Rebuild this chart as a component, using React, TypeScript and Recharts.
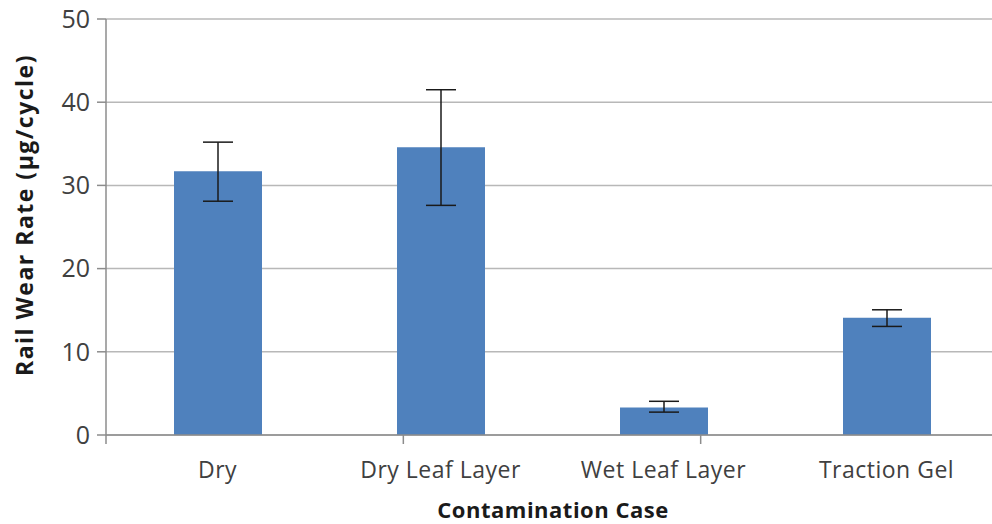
import React from 'react';
import { BarChart, Bar, XAxis, YAxis, CartesianGrid, ErrorBar } from 'recharts';

const categories = ['Dry', 'Dry Leaf Layer', 'Wet Leaf Layer', 'Traction Gel'];
const wearRates = [31.7, 34.6, 3.3, 14.1];
const errorLow = [3.6, 7.0, 0.55, 1.05];
const errorHigh = [3.5, 6.9, 0.75, 0.95];
const yTicks = [0, 10, 20, 30, 40, 50];
const boundaryTicks = [0, 1, 2, 3, 4];

const data = categories.map((c, i) => ({
  name: c,
  rate: wearRates[i],
  err: [errorLow[i], errorHigh[i]],
}));

const FONT = '"Open Sans", sans-serif';

const YTitle = (props: any) => {
  const vb = props.viewBox || {};
  const cx = 24;
  const cy = vb.y + vb.height / 2 - 12;
  return (
    <text
      x={cx}
      y={cy}
      transform={`rotate(-90, ${cx}, ${cy})`}
      textAnchor="middle"
      dominantBaseline="central"
      fontFamily={FONT}
      fontWeight={700}
      fontSize={23}
      letterSpacing={1.5}
      fill="#1a1a1a"
    >
      Rail Wear Rate (µg/cycle)
    </text>
  );
};

const XTitle = () => {
  const cx = 553;
  const cy = 509;
  return (
    <text
      x={cx}
      y={cy}
      textAnchor="middle"
      dominantBaseline="central"
      fontFamily={FONT}
      fontWeight={700}
      fontSize={22}
      letterSpacing={0.5}
      fill="#1a1a1a"
    >
      Contamination Case
    </text>
  );
};

export default function App() {
  return (
    <div style={{ position: 'absolute', left: 0, top: 0, width: 992, height: 524, overflow: 'hidden', background: '#fff' }}>
      <BarChart
        width={1000}
        height={524}
        data={data}
        margin={{ top: 19, right: 2, left: 0, bottom: 0 }}
        barCategoryGap={0}
      >
        <CartesianGrid vertical={false} stroke="#b8b8b8" strokeWidth={1.5} />
        <XAxis
          xAxisId="bounds"
          type="number"
          domain={[0, 4]}
          ticks={boundaryTicks}
          allowDataOverflow
          height={1}
          axisLine={{ stroke: '#8c8c8c', strokeWidth: 1.5 }}
          tickLine={{ stroke: '#8c8c8c', strokeWidth: 1.5 }}
          tickSize={9}
          tickFormatter={() => ''}
        />
        <XAxis
          xAxisId="cat"
          dataKey="name"
          height={88}
          axisLine={false}
          tickLine={false}
          tickSize={8}
          tickMargin={18}
          tick={{ fill: '#404040', fontSize: 23, fontFamily: FONT, letterSpacing: 0.5 }}
          label={<XTitle />}
        />
        <YAxis
          domain={[0, 50]}
          ticks={yTicks}
          width={106}
          axisLine={{ stroke: '#8c8c8c', strokeWidth: 1.5 }}
          tickLine={{ stroke: '#8c8c8c', strokeWidth: 1.5 }}
          tickSize={9}
          tickMargin={7}
          tick={{ fill: '#404040', fontSize: 25, fontFamily: FONT }}
          label={<YTitle />}
        />
        <Bar xAxisId="cat" dataKey="rate" fill="#4f81bd" barSize={88} isAnimationActive={false}>
          <ErrorBar dataKey="err" width={15} stroke="#1a1a1a" strokeWidth={1.5} direction="y" />
        </Bar>
      </BarChart>
    </div>
  );
}
